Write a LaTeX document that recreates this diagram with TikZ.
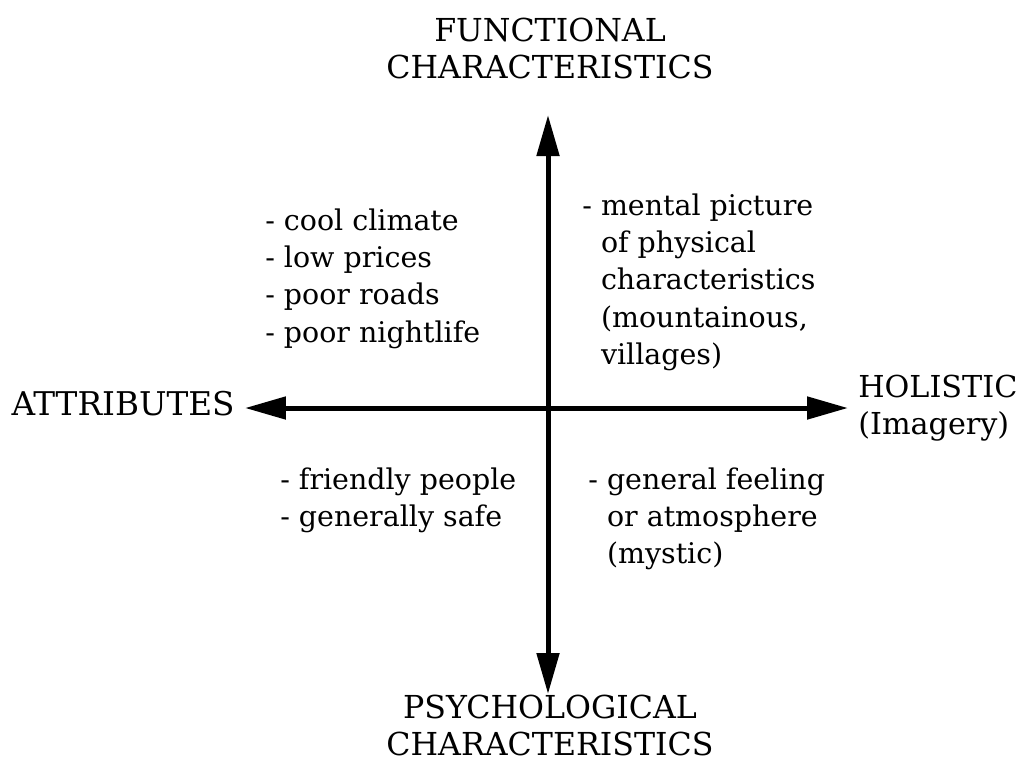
\documentclass[tikz,border=0pt]{standalone}
\usepackage{fontspec}
\setmainfont{DejaVu Serif}
\usetikzlibrary{arrows.meta}

\begin{document}
\begin{tikzpicture}[x=0.02cm, y=-0.02cm,
    lbl/.style={font=\fontsize{16.2}{21.3}\selectfont, inner sep=0pt},
    caplbl/.style={font=\fontsize{18}{21.3}\selectfont, inner sep=0pt},
    axis/.style={line width=0.1cm,
        {Triangle[length=0.82cm, width=0.44cm]}-{Triangle[length=0.82cm, width=0.44cm]}}]
\useasboundingbox (0, 0) rectangle (1020, 762);
\coordinate (top) at (548, 115);
\coordinate (bot) at (548, 694);
\coordinate (lft) at (245, 408);
\coordinate (rgt) at (848, 408);
\draw[axis] (bot) -- (top);
\draw[axis] (lft) -- (rgt);
\node[caplbl, anchor=base] (func) at (550, 41)
    {\begin{tabular}[t]{@{}c@{}}FUNCTIONAL\\CHARACTERISTICS\end{tabular}};
\node[caplbl, anchor=base] (psych) at (550, 718)
    {\begin{tabular}[t]{@{}c@{}}PSYCHOLOGICAL\\CHARACTERISTICS\end{tabular}};
\node[caplbl, font=\fontsize{18.6}{21.3}\selectfont, anchor=base east] (attr) at (235, 415) {ATTRIBUTES};
\node[caplbl, font=\fontsize{17.2}{21.3}\selectfont, anchor=base west] (holi) at (858, 397)
    {\begin{tabular}[t]{@{}l@{}}HOLISTIC\\(Imagery)\end{tabular}};
\node[lbl, anchor=base west] (fa) at (265, 230)
    {\begin{tabular}[t]{@{}l@{}}- cool climate\\- low prices\\- poor roads\\- poor nightlife\end{tabular}};
\node[lbl, anchor=base west] (fh) at (582, 215)
    {\begin{tabular}[t]{@{}l@{}}- mental picture\\\phantom{- }of physical\\\phantom{- }characteristics\\\phantom{- }(mountainous,\\\phantom{- }villages)\end{tabular}};
\node[lbl, anchor=base west] (pa) at (280, 489)
    {\begin{tabular}[t]{@{}l@{}}- friendly people\\- generally safe\end{tabular}};
\node[lbl, anchor=base west] (ph) at (588, 489)
    {\begin{tabular}[t]{@{}l@{}}- general feeling\\\phantom{- }or atmosphere\\\phantom{- }(mystic)\end{tabular}};
\end{tikzpicture}
\end{document}
